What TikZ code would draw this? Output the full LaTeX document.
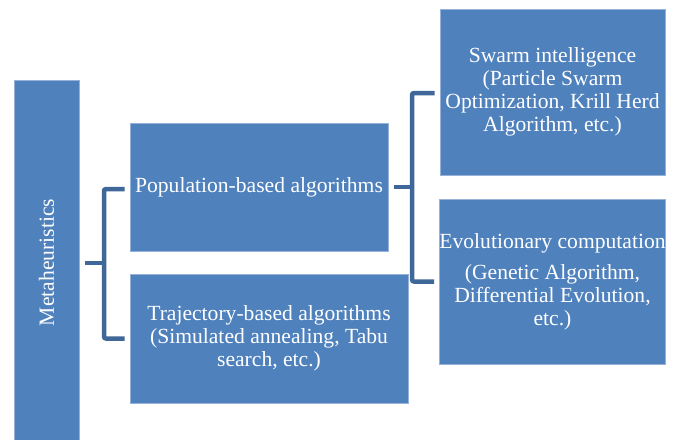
\documentclass[tikz,border=0pt]{standalone}
\usepackage{fontspec}
\setmainfont{Liberation Serif}
\definecolor{boxblue}{RGB}{79,129,189}
\definecolor{boxedge}{RGB}{150,178,216}
\definecolor{brkblue}{RGB}{63,103,151}
\begin{document}
\begin{tikzpicture}[x=1pt,y=-1pt,
  box/.style={rectangle, fill=boxblue, draw=boxedge, line width=0.8pt, text=white, inner sep=0pt, align=center,
    font=\fontsize{21.6}{23}\selectfont},
  brk/.style={draw=brkblue, line width=4.5pt, rounded corners=2pt}]
\useasboundingbox (0,0) rectangle (679,439);
\begin{scope}
\clip (0,0) rectangle (679,439);
\node[box, minimum width=65, minimum height=370] (meta) at (46.5,265) {};
\end{scope}
\node[rotate=90, text=white, inner sep=0pt, font=\fontsize{21.6}{23}\selectfont] (metat) at (46.5,262.5) {Metaheuristics};
\node[box, minimum width=258, minimum height=128] (pop) at (259,187) {Population-based algorithms};
\node[box, minimum width=278, minimum height=129] (traj) at (269,338.5) {Trajectory-based algorithms\\(Simulated annealing, Tabu\\search, etc.)};
\node[box, minimum width=225, minimum height=166] (swarm) at (552.5,92) {Swarm intelligence\\(Particle Swarm\\Optimization, Krill Herd\\Algorithm, etc.)};
\node[box, minimum width=225, minimum height=165] (evol) at (552.5,281.5) {Evolutionary computation\\[8pt](Genetic Algorithm,\\Differential Evolution,\\etc.)};
\draw[brk] ([xshift=6pt]meta.east |- 0,263) -- ++(19,0);
\draw[brk] ([xshift=-5pt,yshift=-2pt]pop.west) -| (104,263) |- ([xshift=-5pt]traj.west);
\draw[brk] ([xshift=6pt]pop.east) -- ++(19,0);
\draw[brk] ([xshift=-5pt,yshift=-1pt]swarm.west) -| (412,187) |- ([xshift=-5pt]evol.west);
\end{tikzpicture}
\end{document}
